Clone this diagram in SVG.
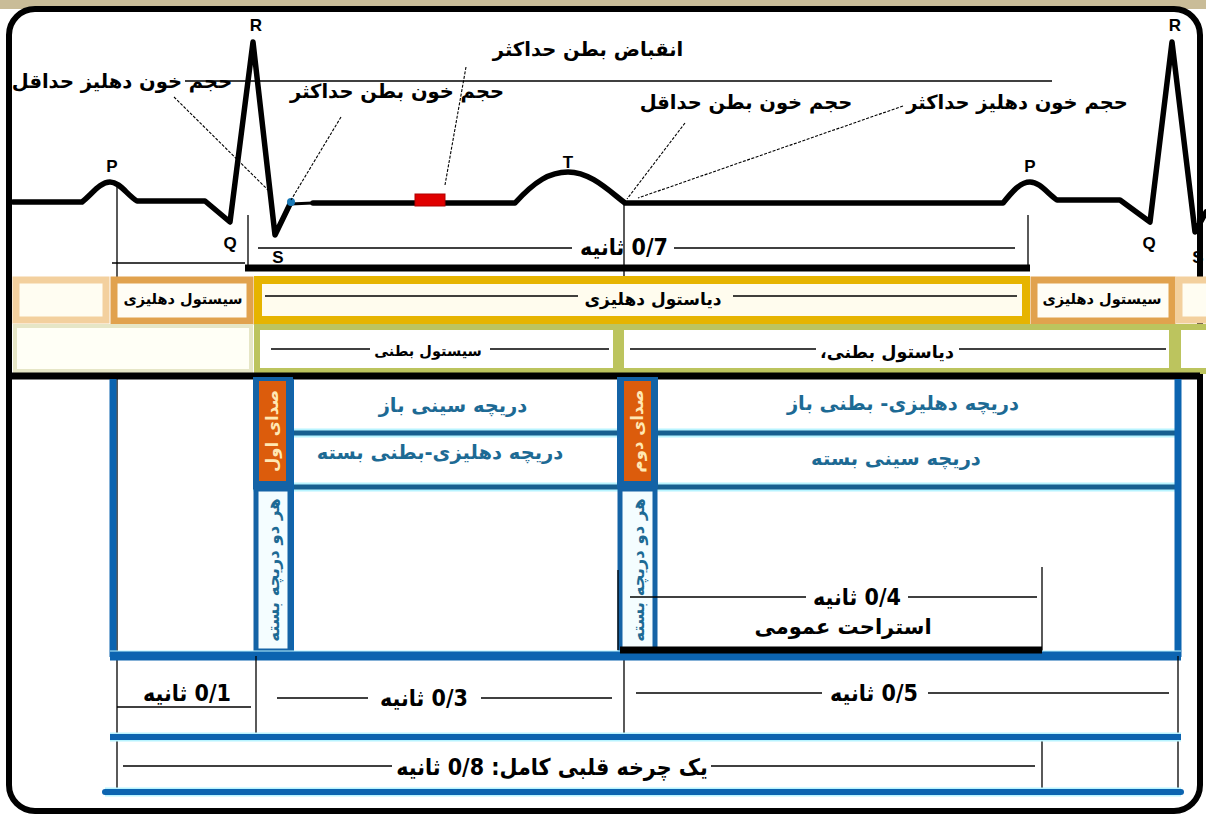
<svg xmlns="http://www.w3.org/2000/svg" width="1206" height="818" viewBox="0 0 1206 818">
<style>
.ecg{fill:none;stroke:#000;stroke-width:5.5;stroke-linejoin:round;stroke-linecap:round}
.thin{stroke:#000;stroke-width:1.3;fill:none}
.lead{stroke:#000;stroke-width:1.1;stroke-dasharray:3 1.5;fill:none}
.lbl{font-family:"Liberation Sans",Arial,sans-serif;font-weight:bold;font-size:17px;text-anchor:middle;fill:#000}
.fa{font-family:"DejaVu Sans",sans-serif;font-weight:bold;font-size:19.5px;text-anchor:middle;direction:rtl;fill:#000}
.tm{font-family:"DejaVu Sans Condensed","DejaVu Sans",sans-serif;font-weight:bold;font-size:23px;text-anchor:middle;direction:rtl;fill:#000}
.ph{font-family:"DejaVu Sans",sans-serif;font-weight:bold;font-size:14.5px;text-anchor:middle;direction:rtl;fill:#000}
.bt{font-family:"DejaVu Sans",sans-serif;font-weight:bold;font-size:19.5px;text-anchor:middle;direction:rtl;fill:#1d6a94}
.vt{font-family:"DejaVu Sans",sans-serif;font-weight:bold;font-size:16.5px;text-anchor:middle;direction:rtl}
.blue{stroke:#0c64b0;fill:none}
.grid{stroke:#175f90;stroke-width:5;fill:none}
.glow{stroke:#b8f4ff;stroke-width:9;fill:none}
</style>
<rect x="0" y="0" width="1206" height="818" fill="#ffffff"/>
<rect x="0" y="0" width="1206" height="9" fill="#c9bc98"/>
<rect x="9" y="9" width="1191" height="802" rx="26" fill="#ffffff" stroke="#000" stroke-width="6"/>

<g id="ecg">
<path class="ecg" d="M13,202 L82,202 C92,194 100,182 110,182 C120,182 127,195 137,201 L205,201 L230,222 L253,42 L275,235 L290,204"/>
<path d="M290,204 L313,203" stroke="#000" stroke-width="3" fill="none"/>
<path class="ecg" d="M313,203 L515,203 C535,181 550,172 568,172 C590,172 608,190 625,203 L1003,203 C1012,192 1020,182 1030,182 C1040,182 1048,194 1057,200 L1120,200 L1150,222 L1172,42 L1195,232 L1206,212"/>
<circle cx="291" cy="202" r="4" fill="#1a7ab8"/>
<rect x="415" y="194" width="30" height="12" fill="#e00000" stroke="#b00000" stroke-width="1"/>
</g>

<g id="wave-labels">
<text class="lbl" x="256" y="31">R</text>
<text class="lbl" x="112" y="172">P</text>
<text class="lbl" x="230" y="249">Q</text>
<text class="lbl" x="278" y="263">S</text>
<text class="lbl" x="568" y="168">T</text>
<text class="lbl" x="1030" y="172">P</text>
<text class="lbl" x="1175" y="31">R</text>
<text class="lbl" x="1149" y="249">Q</text>
<text class="lbl" x="1198" y="263">S</text>
</g>

<g id="connectors">
<line class="thin" x1="185" y1="81" x2="1052" y2="81"/>
<line class="lead" x1="174" y1="97" x2="268" y2="190"/>
<line class="lead" x1="341" y1="117" x2="291" y2="200"/>
<line class="lead" x1="466" y1="67" x2="445" y2="185"/>
<line class="lead" x1="685" y1="123" x2="627" y2="199"/>
<line class="lead" x1="903" y1="106" x2="638" y2="198"/>
<line class="thin" x1="117" y1="185" x2="117" y2="792"/>
<line class="thin" x1="624" y1="203" x2="624" y2="737"/>
<line class="thin" x1="248" y1="215" x2="248" y2="268"/>
<line class="thin" x1="1028" y1="215" x2="1028" y2="268"/>
<line class="thin" x1="112" y1="263" x2="245" y2="263"/>
<line class="thin" x1="258" y1="248" x2="572" y2="248"/>
<line class="thin" x1="674" y1="248" x2="1015" y2="248"/>
<line x1="245" y1="268" x2="1030" y2="268" stroke="#000" stroke-width="7"/>
</g>

<g id="time-07"><text class="tm" x="624" y="255">0/7 ثانیه</text></g>

<g id="top-texts">
<text class="fa" x="122" y="88">حجم خون دهلیز حداقل</text>
<text class="fa" x="397" y="98">حجم خون بطن حداکثر</text>
<text class="fa" x="588" y="56">انقباض بطن حداکثر</text>
<text class="fa" x="746" y="109">حجم خون بطن حداقل</text>
<text class="fa" x="1017" y="109">حجم خون دهلیز حداکثر</text>
</g>

<g id="atrial-row">
<rect x="16" y="280" width="90" height="40" fill="#fffdf2" stroke="#f3d09e" stroke-width="7"/>
<rect x="114" y="280" width="136" height="41" fill="#fffdf5" stroke="#e1a24e" stroke-width="7"/>
<text class="ph" x="183" y="304">سیستول دهلیزی</text>
<rect x="258" y="280" width="768" height="40" fill="#fffcee" stroke="#e6b400" stroke-width="8"/>
<line class="thin" x1="265" y1="296" x2="578" y2="296"/>
<line class="thin" x1="733" y1="296" x2="1017" y2="296"/>
<text class="ph" x="653" y="305" style="font-size:17px">دیاستول دهلیزی</text>
<rect x="1034" y="280" width="138" height="41" fill="#fffdf5" stroke="#e1a24e" stroke-width="7"/>
<text class="ph" x="1102" y="304">سیستول دهلیزی</text>
<rect x="1179" y="280" width="40" height="40" fill="#fffdf2" stroke="#f3d09e" stroke-width="7"/>
</g>

<g id="ventricular-row">
<rect x="15" y="326" width="236" height="45" fill="#fffff6" stroke="#e6e6c6" stroke-width="4"/>
<rect x="257" y="327" width="359" height="44" fill="#ffffff" stroke="#bcc45e" stroke-width="6"/>
<line class="thin" x1="271" y1="349" x2="370" y2="349"/>
<line class="thin" x1="490" y1="349" x2="609" y2="349"/>
<text class="ph" x="428" y="356">سیستول بطنی</text>
<rect x="621" y="327" width="551" height="44" fill="#ffffff" stroke="#bcc45e" stroke-width="6"/>
<line class="thin" x1="630" y1="349" x2="816" y2="349"/>
<line class="thin" x1="959" y1="349" x2="1166" y2="349"/>
<text class="fa" x="887" y="358" style="font-size:17.5px">دیاستول بطنی،</text>
<rect x="1178" y="327" width="40" height="44" fill="#ffffff" stroke="#bcc45e" stroke-width="6"/>
<line x1="10" y1="376" x2="1200" y2="376" stroke="#000" stroke-width="7"/>
</g>

<g id="valves">
<line class="glow" x1="293" y1="433" x2="1176" y2="433"/>
<line class="glow" x1="253" y1="487" x2="1176" y2="487"/>
<line class="grid" x1="293" y1="433" x2="617" y2="433"/>
<line class="grid" x1="657" y1="433" x2="1176" y2="433"/>
<line class="grid" x1="253" y1="487" x2="1176" y2="487"/>
<line class="blue" x1="113" y1="379" x2="113" y2="657" stroke-width="7"/>
<line class="blue" x1="1178" y1="379" x2="1178" y2="657" stroke-width="7"/>
<line class="blue" x1="291" y1="379" x2="291" y2="652" stroke-width="6"/>
<text class="bt" x="453" y="412">دریچه سینی باز</text>
<text class="bt" x="440" y="459">دریچه دهلیزی-بطنی بسته</text>
<text class="bt" x="903" y="410">دریچه دهلیزی- بطنی باز</text>
<text class="bt" x="896" y="465">دریچه سینی بسته</text>
</g>

<g id="s1">
<rect x="253" y="377" width="40" height="111" fill="#1463a6"/>
<rect x="259" y="381" width="27" height="100" fill="#dc5c0c"/>
<text class="vt" fill="#ffe8b4" transform="translate(278,431) rotate(-90)">صدای اول</text>
<rect x="256" y="489" width="34" height="162" fill="#f4fdff" stroke="#1463a6" stroke-width="5"/>
<text class="vt" fill="#1d6a94" transform="translate(279,570) rotate(-90)">هر دو دریچه بسته</text>
</g>

<g id="s2">
<rect x="617" y="377" width="41" height="111" fill="#1463a6"/>
<rect x="624" y="381" width="27" height="100" fill="#dc5c0c"/>
<text class="vt" fill="#ffe8b4" transform="translate(643,431) rotate(-90)">صدای دوم</text>
<rect x="620" y="489" width="35" height="162" fill="#f4fdff" stroke="#1463a6" stroke-width="5"/>
<text class="vt" fill="#1d6a94" transform="translate(644,570) rotate(-90)">هر دو دریچه بسته</text>
</g>

<g id="rest">
<line class="thin" x1="630" y1="597" x2="806" y2="597"/>
<line class="thin" x1="908" y1="597" x2="1037" y2="597"/>
<line class="thin" x1="1042" y1="567" x2="1042" y2="652"/>
<line class="thin" x1="618" y1="570" x2="618" y2="650"/>
<text class="tm" x="857" y="605">0/4 ثانیه</text>
<text class="bt" x="843" y="634" style="font-size:21px;fill:#000">استراحت عمومی</text>
</g>

<g id="timing">
<line class="glow" x1="110" y1="655" x2="1181" y2="655"/>
<line class="blue" x1="110" y1="656" x2="1181" y2="656" stroke-width="9"/>
<line x1="620" y1="650" x2="1042" y2="650" stroke="#000" stroke-width="7"/>
<line class="thin" x1="256" y1="656" x2="256" y2="736"/>
<line class="thin" x1="1178" y1="656" x2="1178" y2="792"/>
<line class="thin" x1="1042" y1="737" x2="1042" y2="795"/>
<line class="thin" x1="117" y1="707" x2="251" y2="707"/>
<text class="tm" x="187" y="701">0/1 ثانیه</text>
<line class="thin" x1="277" y1="698" x2="368" y2="698"/>
<line class="thin" x1="481" y1="698" x2="612" y2="698"/>
<text class="tm" x="424" y="706">0/3 ثانیه</text>
<line class="thin" x1="636" y1="693" x2="822" y2="693"/>
<line class="thin" x1="928" y1="693" x2="1169" y2="693"/>
<text class="tm" x="874" y="701">0/5 ثانیه</text>
<line class="glow" x1="110" y1="737" x2="1181" y2="737" stroke-width="8"/>
<line class="blue" x1="110" y1="737" x2="1181" y2="737" stroke-width="6"/>
<line class="thin" x1="123" y1="766" x2="392" y2="766"/>
<line class="thin" x1="711" y1="766" x2="1035" y2="766"/>
<text class="tm" x="552" y="775">یک چرخه قلبی کامل: 0/8 ثانیه</text>
<line class="glow" x1="105" y1="792" x2="1181" y2="792" stroke-width="8"/>
<line class="blue" x1="105" y1="792" x2="1181" y2="792" stroke-width="6" stroke-linecap="round"/>
</g>
</svg>
